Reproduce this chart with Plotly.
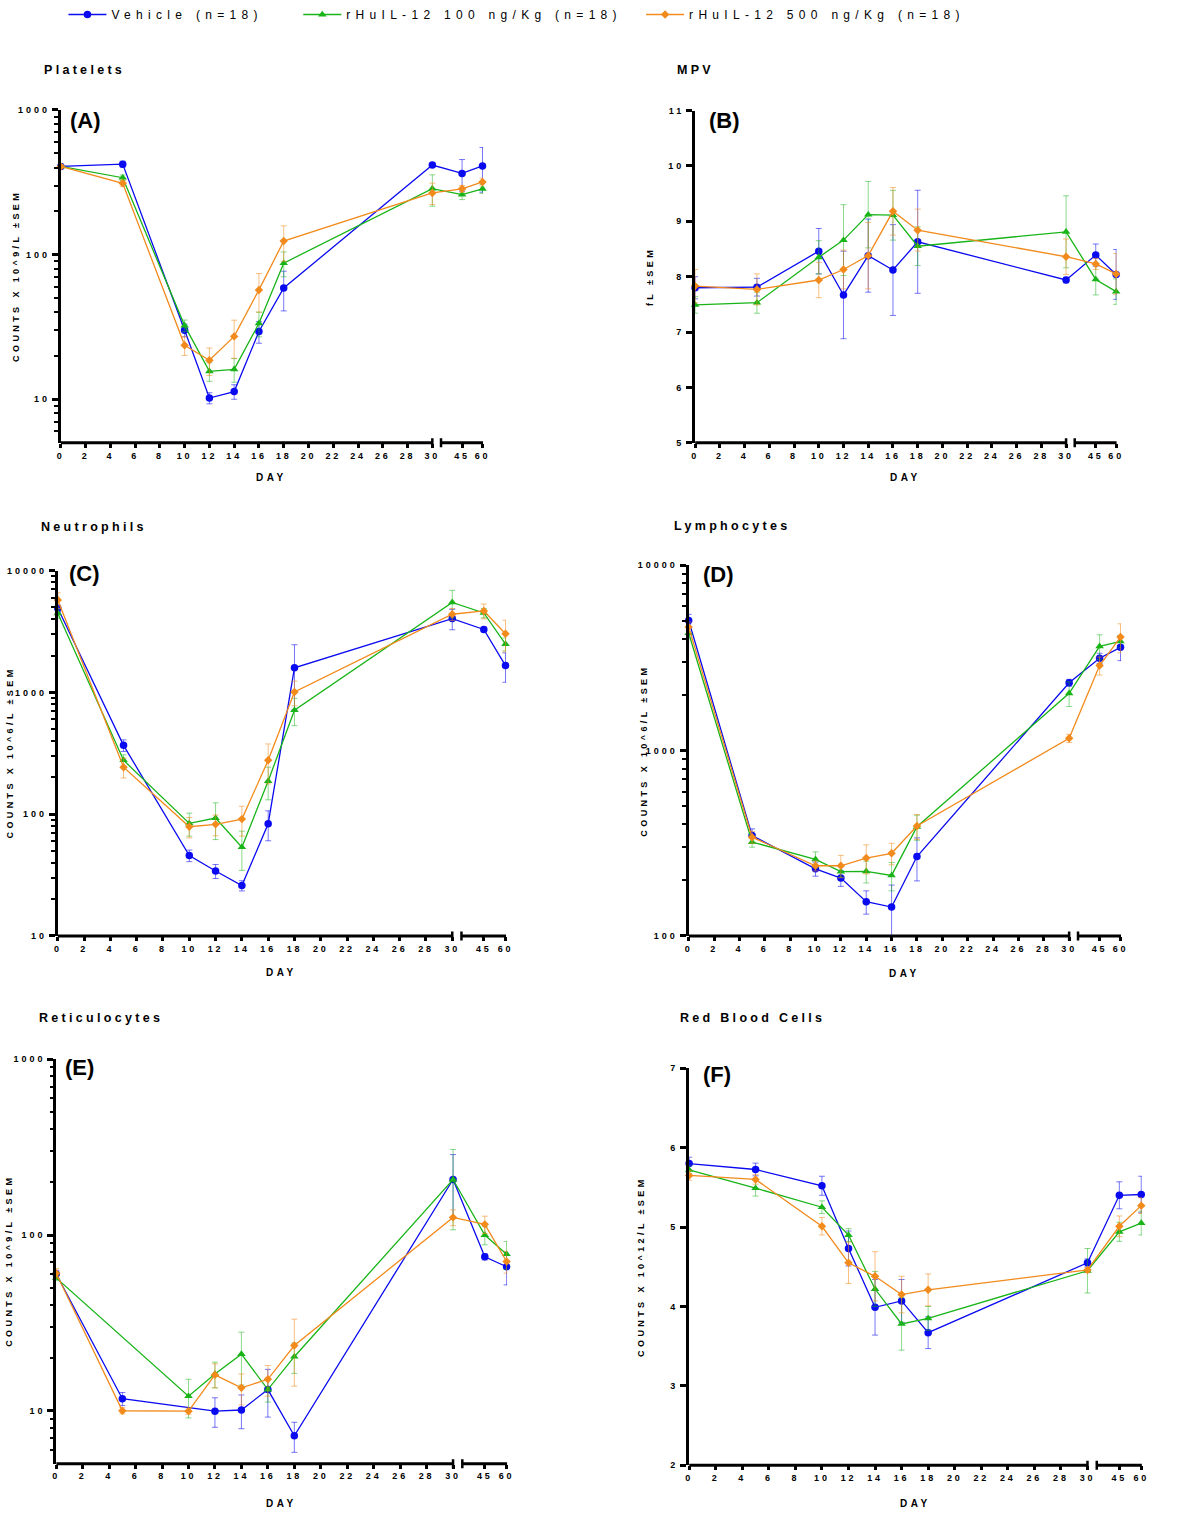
import math
import plotly.graph_objects as go

W, H = 1200, 1515
FONT = "Liberation Sans, Arial, sans-serif"

# ---------------- data ----------------
DAYS = [0, 5, 10, 12, 14, 16, 18, 30, 45, 60]
AXIS_DAYS = [0, 2, 4, 6, 8, 10, 12, 14, 16, 18, 20, 22, 24, 26, 28, 30, 45, 60]
SERIES = ["Vehicle (n=18)", "rHuIL-12 100 ng/Kg (n=18)", "rHuIL-12 500 ng/Kg (n=18)"]
COLORS = ["#0A0AF0", "#18B418", "#F28A1C"]
ERR_COLORS = ["rgba(10,10,240,0.55)", "rgba(24,180,24,0.5)", "rgba(242,138,28,0.55)"]
SYMBOLS = ["circle", "triangle-up", "diamond"]
SIZES = [7.5, 7.5, 6.5]

PLT_VEH = [407, 422, 30.0, 10.2, 11.3, 29.4, 58.8, 416, 364, 410]
PLT_VEH_SEM = [15, 20, 3, 0.9, 1.3, 5, 18, 15, 90, 140]
PLT_100 = [407, 340, 32.3, 15.6, 16.1, 33.5, 87.3, 286, 260, 285]
PLT_100_SEM = [12, 15, 3, 2.3, 3, 6.5, 17, 70, 20, 20]
PLT_500 = [407, 311, 23.6, 18.6, 27.2, 57.0, 124, 267, 285, 318]
PLT_500_SEM = [12, 15, 3.5, 4, 8, 17, 34, 45, 15, 20]

MPV_VEH = [7.80, 7.81, 8.46, 7.67, 8.38, 8.12, 8.63, 7.94, 8.39, 8.04]
MPV_VEH_SEM = [0.2, 0.16, 0.41, 0.79, 0.66, 0.82, 0.93, 0.05, 0.2, 0.45]
MPV_100 = [7.49, 7.53, 8.35, 8.66, 9.12, 9.11, 8.55, 8.81, 7.95, 7.73]
MPV_100_SEM = [0.15, 0.19, 0.3, 0.64, 0.6, 0.45, 0.35, 0.65, 0.28, 0.23]
MPV_500 = [7.83, 7.77, 7.94, 8.13, 8.38, 9.18, 8.84, 8.36, 8.23, 8.05]
MPV_500_SEM = [0.3, 0.28, 0.32, 0.35, 0.6, 0.43, 0.38, 0.32, 0.1, 0.37]

NEU_VEH = [4898, 367, 45.7, 34.1, 25.9, 83.4, 1589, 4036, 3284, 1660]
NEU_VEH_SEM = [300, 40, 5, 4.5, 2.5, 23, 870, 770, 150, 450]
NEU_100 = [4460, 277, 83.9, 92.8, 53.5, 187, 713, 5483, 4487, 2493]
NEU_100_SEM = [400, 30, 18, 31, 19, 56, 180, 1400, 400, 300]
NEU_500 = [5728, 243, 78.8, 82.4, 91.0, 277, 1006, 4378, 4661, 3027]
NEU_500_SEM = [850, 45, 15, 16, 25, 100, 230, 500, 650, 880]

LYM_VEH = [5030, 348, 230, 205, 153, 143, 268, 2323, 3148, 3606]
LYM_VEH_SEM = [400, 30, 20, 20, 22, 45, 70, 100, 200, 550]
LYM_100 = [4305, 321, 259, 222, 223, 212, 388, 2037, 3652, 3882]
LYM_100_SEM = [300, 20, 25, 15, 30, 37, 60, 310, 560, 300]
LYM_500 = [4634, 341, 239, 239, 263, 279, 392, 1164, 2876, 4098]
LYM_500_SEM = [300, 25, 15, 33, 47, 37, 60, 60, 320, 730]

RET_VEH = [60.0, 11.7, None, 9.95, 10.1, 13.2, 7.2, 207, 75.2, 66.0]
RET_VEH_SEM = [3, 1.0, 0, 1.9, 2.2, 4, 1.4, 80, 3, 14]
RET_100 = [57, None, 12.1, 16.2, 21.0, 13.2, 20.3, 207, 100, 77.8]
RET_100_SEM = [2, 0, 3, 2.7, 7, 2, 4, 100, 12, 14]
RET_500 = [60.6, 10.0, 9.95, 16.0, 13.5, 15.1, 23.5, 126, 115, 70.7]
RET_500_SEM = [4, 0.4, 0.4, 2.5, 2.7, 3, 9.7, 13, 13, 10]

RBC_VEH = [5.80, 5.725, 5.52, 4.73, 3.99, 4.07, 3.67, 4.55, 5.40, 5.41]
RBC_VEH_SEM = [0.08, 0.08, 0.12, 0.22, 0.35, 0.27, 0.2, 0.05, 0.17, 0.23]
RBC_100 = [5.72, 5.49, 5.25, 4.90, 4.22, 3.78, 3.85, 4.45, 4.94, 5.05]
RBC_100_SEM = [0.05, 0.1, 0.08, 0.08, 0.22, 0.33, 0.15, 0.28, 0.12, 0.15]
RBC_500 = [5.65, 5.60, 5.01, 4.55, 4.38, 4.15, 4.21, 4.46, 5.01, 5.27]
RBC_500_SEM = [0.06, 0.06, 0.11, 0.26, 0.31, 0.23, 0.2, 0.03, 0.13, 0.1]

TITLES = ["Platelets", "MPV", "Neutrophils", "Lymphocytes", "Reticulocytes", "Red Blood Cells"]
LETTERS = ["(A)", "(B)", "(C)", "(D)", "(E)", "(F)"]
YTITLES = ["COUNTS X 10^9/L ±SEM", "fL ±SEM", "COUNTS X 10^6/L ±SEM",
           "COUNTS X 10^6/L ±SEM", "COUNTS X 10^9/L ±SEM", "COUNTS X 10^12/L ±SEM"]
XTITLE = "DAY"

PANELS = [
    dict(vals=[PLT_VEH, PLT_100, PLT_500], sem=[PLT_VEH_SEM, PLT_100_SEM, PLT_500_SEM],
         log=True, yrange=(5, 1000), yticks=[10, 100, 1000]),
    dict(vals=[MPV_VEH, MPV_100, MPV_500], sem=[MPV_VEH_SEM, MPV_100_SEM, MPV_500_SEM],
         log=False, yrange=(5, 11), yticks=[5, 6, 7, 8, 9, 10, 11]),
    dict(vals=[NEU_VEH, NEU_100, NEU_500], sem=[NEU_VEH_SEM, NEU_100_SEM, NEU_500_SEM],
         log=True, yrange=(10, 10000), yticks=[10, 100, 1000, 10000]),
    dict(vals=[LYM_VEH, LYM_100, LYM_500], sem=[LYM_VEH_SEM, LYM_100_SEM, LYM_500_SEM],
         log=True, yrange=(100, 10000), yticks=[100, 1000, 10000]),
    dict(vals=[RET_VEH, RET_100, RET_500], sem=[RET_VEH_SEM, RET_100_SEM, RET_500_SEM],
         log=True, yrange=(5, 1000), yticks=[10, 100, 1000]),
    dict(vals=[RBC_VEH, RBC_100, RBC_500], sem=[RBC_VEH_SEM, RBC_100_SEM, RBC_500_SEM],
         log=False, yrange=(2, 7), yticks=[2, 3, 4, 5, 6, 7]),
]

# ---------------- layout geometry (pixels) ----------------
# (left px of y axis, px per day, top px, bottom px)
GEOM = [
    (57.3, 12.50, 104.7, 440.0),
    (697.5, 12.48, 105.3, 440.0),
    (54.3, 13.27, 568.7, 936.7),
    (691.0, 12.80, 563.3, 936.7),
    (52.7, 13.35, 1061.0, 1468.3),
    (691.5, 13.40, 1070.0, 1470.0),
]
TITLE_POS = [(38, 64), (677, 64), (35, 525), (674, 524), (33, 1019), (680, 1019)]
LETTER_POS = [(65, 115), (709, 115), (64, 572), (703, 573), (60, 1069), (703, 1076)]
YTITLE_POS = [(12, 272), (652, 273), (6, 752), (645, 750), (5, 1264), (643, 1270)]
DAY_Y = [475, 475, 974, 975, 1508, 1508]
LEGEND_X = [60, 297, 643]

# broken x axis: days 0-30 linear, then 45 and 60 compressed after a gap
X_MAX = 34.1
SEG2_START = 30.7


def xpos(d):
    if d <= 30:
        return d
    return 32.4 + (d - 45) * (34.05 - 32.4) / 15.0


def px(x):
    return x / W


def py(y):
    return 1 - y / H


def spaced(text, sp):
    return f'<span style="letter-spacing:{sp}px">{text}</span>'


def minor_vals(lo, hi):
    out = []
    dec = 1
    while dec < hi:
        for m in range(2, 10):
            v = m * dec
            if lo < v < hi:
                out.append(v)
        dec *= 10
    return out


fig = go.Figure()
layout = dict(
    width=W, height=H, autosize=False,
    margin=dict(l=0, r=0, t=0, b=0),
    paper_bgcolor="white", plot_bgcolor="white",
    font=dict(family=FONT, color="black"),
    showlegend=True,
)
annotations = []
shapes = []

for i, panel in enumerate(PANELS):
    n = i + 1
    xname = "x" if n == 1 else f"x{n}"
    yname = "y" if n == 1 else f"y{n}"
    x0, ppd, top, bot = GEOM[i]
    x1 = x0 + X_MAX * ppd
    xs = [xpos(d) for d in DAYS]
    for s in range(3):
        fig.add_trace(go.Scatter(
            x=xs, y=panel["vals"][s], name=spaced(SERIES[s], 5.3),
            mode="lines+markers", connectgaps=True, cliponaxis=False,
            line=dict(color=COLORS[s], width=1.3),
            marker=dict(color=COLORS[s], symbol=SYMBOLS[s], size=SIZES[s], line=dict(width=0)),
            error_y=dict(type="data", array=panel["sem"][s], visible=True,
                         color=ERR_COLORS[s], thickness=1, width=3),
            xaxis=xname, yaxis=yname,
            showlegend=(i == 0),
            legend=("legend" if s == 0 else f"legend{s + 1}"),
        ))

    xa = dict(
        domain=[px(x0), px(x1)], range=[0, X_MAX], anchor=yname,
        showline=False, showgrid=False, zeroline=False,
        tickmode="array", tickvals=[xpos(d) for d in AXIS_DAYS],
        ticktext=[spaced(str(d), 2.8) for d in AXIS_DAYS],
        ticks="outside", ticklen=4, tickwidth=2.5, tickcolor="black",
        tickfont=dict(family=FONT, size=9, weight="bold", color="black"),
    )
    lo, hi = panel["yrange"]
    ya = dict(
        domain=[py(bot), py(top)], anchor=xname,
        showline=True, linewidth=3, linecolor="black",
        showgrid=False, zeroline=False,
        tickmode="array", tickvals=panel["yticks"],
        ticktext=[spaced(str(v), 3) for v in panel["yticks"]],
        ticks="outside", ticklen=6, tickwidth=2.5, tickcolor="black",
        tickfont=dict(family=FONT, size=9, weight="bold", color="black"),
    )
    if panel["log"]:
        ya.update(type="log", range=[math.log10(lo), math.log10(hi)],
                  minor=dict(tickmode="array", tickvals=minor_vals(lo, hi),
                             ticks="outside", ticklen=3.5, tickwidth=2, tickcolor="black",
                             showgrid=False))
    else:
        ya.update(type="linear", range=[lo, hi])
    layout["xaxis" if n == 1 else f"xaxis{n}"] = xa
    layout["yaxis" if n == 1 else f"yaxis{n}"] = ya

    # broken x-axis line (two segments with end caps)
    for (a, b) in [(0, 30), (SEG2_START, X_MAX)]:
        shapes.append(dict(type="line", xref=xname, yref=f"{yname} domain",
                           x0=a, x1=b, y0=0, y1=0,
                           line=dict(color="black", width=3)))
    for c in [30, SEG2_START]:
        shapes.append(dict(type="line", xref=xname, yref=f"{yname} domain",
                           ysizemode="pixel", yanchor=0, x0=c, x1=c, y0=-4.5, y1=4.5,
                           line=dict(color="black", width=2.5)))

    # texts
    tx, ty = TITLE_POS[i]
    annotations.append(dict(text=spaced(TITLES[i], 3.3), xref="paper", yref="paper",
                            x=px(tx), y=py(ty), xanchor="left", yanchor="middle", showarrow=False,
                            font=dict(family=FONT, size=12.5, weight="bold", color="black")))
    lx, ly = LETTER_POS[i]
    annotations.append(dict(text=LETTERS[i], xref="paper", yref="paper", x=px(lx), y=py(ly),
                            xanchor="left", yanchor="middle", showarrow=False,
                            font=dict(family=FONT, size=22, weight="bold", color="black")))
    yx, yy = YTITLE_POS[i]
    annotations.append(dict(text=spaced(YTITLES[i], 3.4), xref="paper", yref="paper",
                            x=px(yx), y=py(yy), xanchor="center", yanchor="middle",
                            textangle=-90, showarrow=False,
                            font=dict(family=FONT, size=9, weight="bold", color="black")))
    annotations.append(dict(text=spaced(XTITLE, 3.5), xref="paper", yref="paper",
                            x=px((x0 + x1) / 2), y=py(DAY_Y[i]),
                            xanchor="center", yanchor="middle", showarrow=False,
                            font=dict(family=FONT, size=10, weight="bold", color="black")))

for s in range(3):
    key = "legend" if s == 0 else f"legend{s + 1}"
    layout[key] = dict(
        x=px(LEGEND_X[s]), y=py(8.5), xanchor="left", yanchor="middle",
        orientation="h", bgcolor="rgba(0,0,0,0)", borderwidth=0,
        itemwidth=38,
        font=dict(family=FONT, size=12, color="black"),
    )

layout["annotations"] = annotations
layout["shapes"] = shapes
fig.update_layout(**layout)

post = ("var st=document.createElement('style');"
        "st.textContent='html,body{margin:0;padding:0;overflow:hidden}';"
        "document.head.appendChild(st);")

fig.write_html("out.html", post_script=post, config={"displayModeBar": False})
